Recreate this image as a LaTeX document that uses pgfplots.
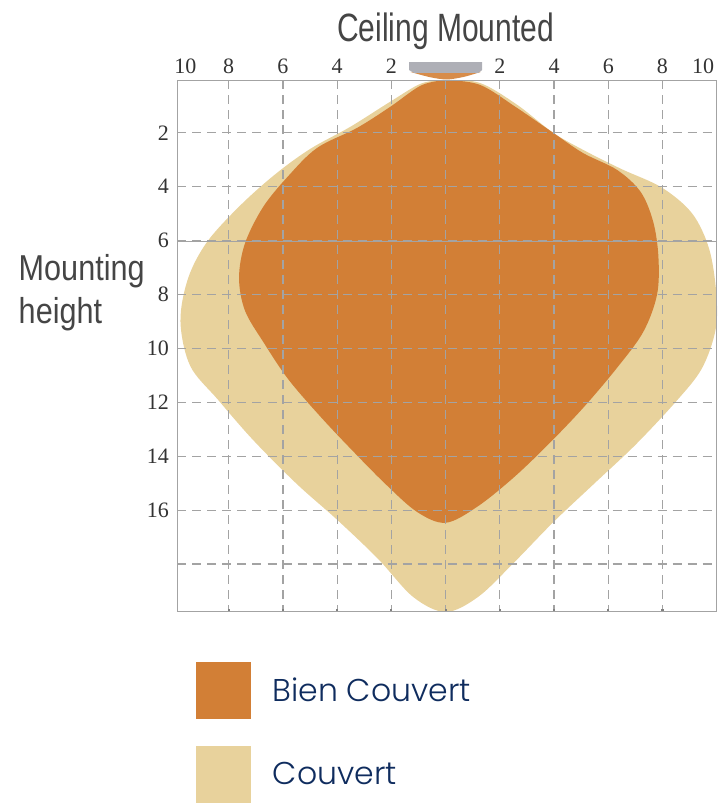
\documentclass[border=0pt]{standalone}
\usepackage{pgfplots}
\pgfplotsset{compat=1.18}
\usepackage{pgfplotstable}
\usepackage{fontspec}
\setmainfont{Liberation Serif}
\newfontfamily\labelfont{Liberation Sans}
\newfontfamily\legendfont{Poppins}[UprightFont=* Light]

\definecolor{couvert}{HTML}{E8D29C}
\definecolor{biencouvert}{HTML}{D27F36}
\definecolor{gridgray}{HTML}{A3A3A3}
\definecolor{labelgray}{HTML}{454545}
\definecolor{lampgray}{HTML}{AEAFB6}
\definecolor{navy}{HTML}{0F2C5E}

% outlines read clockwise from the lamp: distance (m), height (m)
\pgfplotstableread{
x y
0 0.04
1.27 0.15
2.64 0.96
3.97 2.00
5.22 2.71
6.5 3.35
7.99 4.04
9.1 5.0
9.72 6.3
9.98 7.9
9.96 9.3
9.45 10.75
8.5 11.97
7.0 13.58
5.5 15.0
3.97 16.45
2.5 17.97
1.2 19.22
0 19.78
-1.2 19.22
-2.5 17.8
-4.0 16.36
-5.5 15.02
-7.1 13.40
-8.4 11.9
-9.42 10.65
-9.78 9.0
-9.5 7.4
-8.8 6.05
-7.6 4.72
-6.3 3.55
-5.0 2.6
-3.52 1.78
-2.05 0.85
-0.9 0.17
0 0.04
}\couverttable

\pgfplotstableread{
x y
0 0.04
1.27 0.22
2.64 1.08
3.97 2.00
5.07 2.75
6.33 3.38
7.2 4.2
7.66 5.31
7.85 6.6
7.8 8.0
7.29 9.39
6.3 10.75
5.07 12.21
3.8 13.55
2.5 14.8
1.16 15.88
0 16.47
-1.05 16.07
-2.2 15.05
-3.4 13.83
-4.6 12.55
-5.8 11.15
-6.7 9.8
-7.4 8.6
-7.62 7.38
-7.4 6.1
-6.73 4.75
-5.8 3.6
-4.74 2.56
-3.27 1.82
-2.05 1.04
-0.9 0.24
0 0.04
}\biencouverttable

\begin{document}
\begin{tikzpicture}
\useasboundingbox (0,0) rectangle (724pt,804pt);
\begin{axis}[
at={(177.5pt,192.3pt)},
anchor=south west,
scale only axis,
width=539.2pt,
height=531.7pt,
clip=false,
axis on top,
y dir=reverse,
xmin=-9.89, xmax=10.0,
ymin=0.04, ymax=19.77,
axis line style={gridgray, line width=1pt},
xtick={-8,-6,-4,-2,0,2,4,6,8},
xticklabels={8,6,4,2,,2,4,6,8},
extra x ticks={-9.6,9.5},
extra x tick labels={10,10},
extra x tick style={grid=none, major tick length=0pt},
ytick={2,4,6,8,10,12,14,16,18},
yticklabels={2,4,6,8,10,12,14,16,},
xmajorgrids,
ymajorgrids,
grid style={gridgray, line width=1.1pt, dash pattern=on 9pt off 6pt},
xtick pos=lower,
xticklabel pos=upper,
ytick pos=left,
major tick length=3pt,
tick align=inside,
xtick style={color=gray, line width=2.2pt},
ytick style={draw=none},
tick label style={font=\fontsize{22}{24}\selectfont, text=black!80},
/pgf/number format/assume math mode=true,
xticklabel style={yshift=3pt},
yticklabel style={xshift=-5pt},
title={\labelfont Ceiling Mounted},
title style={font=\fontsize{39.5}{42}\selectfont, text=labelgray, xscale=0.76,
  at={(axis description cs:0.497,1.0)}, anchor=south, yshift=21pt},
ylabel={\labelfont Mounting\\\labelfont height},
ylabel style={font=\fontsize{36}{43}\selectfont, text=labelgray, rotate=-90, xscale=0.85,
  align=left, at={(axis description cs:-0.3,0.6)}, anchor=west},
reverse legend,
legend image code/.code={\path[#1] (0pt,-28.5pt) rectangle (55pt,28.5pt);},
legend cell align={left},
legend style={draw=none, fill=none, inner sep=0pt, outer sep=0pt,
  at={(axis description cs:0.034,-0.0946)}, anchor=north west,
  font=\fontsize{31.5}{34}\selectfont\legendfont, text=navy, row sep=27pt,
  /tikz/every odd column/.append style={column sep=20pt}},
]
\addplot [draw=none, fill=couvert, smooth, tension=0.55] table {\couverttable};
\addlegendentry{Couvert}
\addplot [draw=none, fill=biencouvert, smooth, tension=0.55] table {\biencouverttable};
\addlegendentry{Bien Couvert}
% solid line at 6 m
\addplot [gridgray, line width=1pt, forget plot] coordinates {(-9.89,6.04) (10.0,6.04)};
% lamp
\addplot [draw=none, fill=biencouvert!90!white, smooth, forget plot] coordinates {(-1.3,-0.26) (-0.6,-0.07) (0.02,0.02) (0.65,-0.07) (1.3,-0.26)};
\addplot [draw=none, fill=lampgray, forget plot] coordinates {(-1.35,-0.62) (1.35,-0.62) (1.35,-0.33) (1.20,-0.22) (-1.16,-0.22) (-1.35,-0.33) (-1.35,-0.62)};
\end{axis}
\end{tikzpicture}
\end{document}
